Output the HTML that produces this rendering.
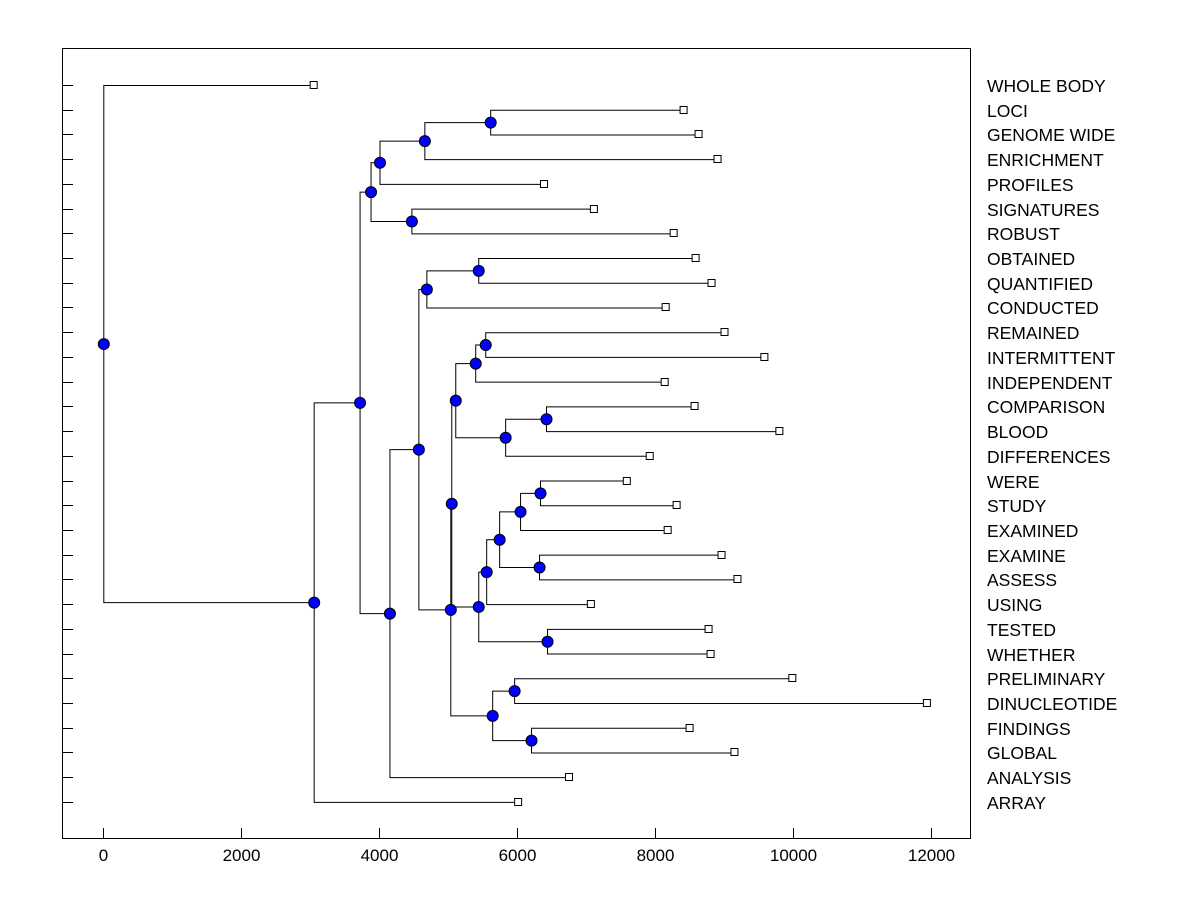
<!DOCTYPE html>
<html><head><meta charset="utf-8"><style>
html,body{margin:0;padding:0;background:#fff;}
svg{display:block;font-family:"Liberation Sans",Arial,sans-serif;}
</style></head><body>
<svg id="chart" width="1200" height="900"></svg>
<script>
const leafLabels=["WHOLE BODY","LOCI","GENOME WIDE","ENRICHMENT","PROFILES","SIGNATURES","ROBUST","OBTAINED","QUANTIFIED","CONDUCTED","REMAINED","INTERMITTENT","INDEPENDENT","COMPARISON","BLOOD","DIFFERENCES","WERE","STUDY","EXAMINED","EXAMINE","ASSESS","USING","TESTED","WHETHER","PRELIMINARY","DINUCLEOTIDE","FINDINGS","GLOBAL","ANALYSIS","ARRAY"];
const leafValues=[3049,8410,8627,8902,6387,7110,8266,8584,8815,8150,9003,9581,8136,8569,9798,7919,7587,8309,8179,8960,9191,7066,8772,8801,9986,11936,8497,9147,6749,6012];
const mergeLeft=[1,30,31,5,32,7,35,10,37,13,39,38,16,42,19,43,45,22,46,41,24,26,50,49,36,54,34,56,0];
const mergeRight=[2,3,4,6,33,8,9,11,12,14,15,40,17,18,20,44,21,23,47,48,25,27,51,52,53,28,55,29,57];
const mergeHeight=[5607,4653,4003,4465,3873,5434,4682,5535,5390,6416,5824,5101,6329,6040,6315,5737,5549,6431,5434,5043,5954,6199,5636,5029,4566,4147,3714,3049,0];
const xTicks=[0,2000,4000,6000,8000,10000,12000];

const NS="http://www.w3.org/2000/svg";
const svg=document.getElementById('chart');
const X=v=>103.3+v*0.069;
const Y=i=>85+i*24.72;
function mk(tag,attrs,parent){const e=document.createElementNS(NS,tag);for(const k in attrs)e.setAttribute(k,attrs[k]);(parent||svg).appendChild(e);return e;}

const frame=mk('rect',{x:62.5,y:48.5,width:908,height:790,fill:'none',stroke:'#000','stroke-width':1});



const tickG=mk('g',{});


xTicks.forEach(t=>{
  const x=Math.round(X(t))+0.5;
  mk('line',{x1:x,x2:x,y1:828,y2:838,stroke:'#000'},tickG);
  const tx=mk('text',{x:x,y:861,'text-anchor':'middle','font-size':17,fill:'#000'},tickG);
  tx.textContent=t;
  
  
});

const nx=[],ny=[];
leafValues.forEach((v,i)=>{nx[i]=X(v);ny[i]=Y(i);});
const linkG=mk('g',{stroke:'#000','stroke-width':1,fill:'none'});


mergeHeight.forEach((h,k)=>{
  const id=leafLabels.length+k,a=mergeLeft[k],b=mergeRight[k];
  const x=X(h);nx[id]=x;ny[id]=(ny[a]+ny[b])/2;
  const p=mk('path',{d:`M${nx[a]},${ny[a]+0.5}H${x+0.5}V${ny[b]+0.5}H${nx[b]}`},linkG);
  
  
});

leafLabels.forEach((lab,i)=>{
  const y=Math.round(Y(i))+0.5;
  const tk=mk('line',{x1:62,x2:73,y1:y,y2:y,stroke:'#000'});
  
  
  const sq=mk('rect',{x:nx[i]-3.5,y:y-4,width:7,height:7,fill:'#fff',stroke:'#000'});
  
  
  const t=mk('text',{x:987,y:y+6.5,'font-size':17.5,fill:'#000'});
  t.textContent=lab;
  
  
});
mergeHeight.forEach((h,k)=>{
  const id=leafLabels.length+k;
  const c=mk('circle',{cx:nx[id]+0.5,cy:ny[id]+0.5,r:5.5,fill:'#0000ff',stroke:'#000','stroke-width':1});
  
  
});
</script>
</body></html>
